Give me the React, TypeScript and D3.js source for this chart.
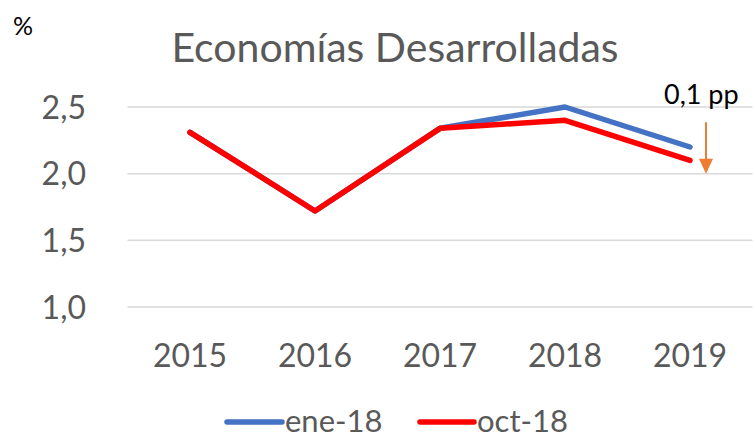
import React from "react";
import * as d3 from "d3";

const categories = ["2015", "2016", "2017", "2018", "2019"];
const ene18 = [2.31, 1.72, 2.34, 2.5, 2.2];
const oct18 = [2.31, 1.72, 2.34, 2.4, 2.1];
const yTicks = [1.0, 1.5, 2.0, 2.5];
const seriesNames = ["ene-18", "oct-18"];
const title = "Economías Desarrolladas";
const annotation = "0,1 pp";

const W = 753;
const H = 438;
const FONT = "Lato, 'Open Sans', sans-serif";

export default function App() {
  const x = d3.scaleBand<string>().domain(categories).range([127.5, 752.5]);
  const y = d3.scaleLinear().domain([1.0, 2.5]).range([307, 107]);
  const cx = (c: string) => (x(c) as number) + x.bandwidth() / 2;
  const line = d3
    .line<number>()
    .x((_, i) => cx(categories[i]))
    .y((d) => y(d));
  const fmt = (v: number) => v.toFixed(1).replace(".", ",");
  const arrowX = 706;
  const arrowTop = y(2.34) - 6;
  const arrowBot = y(2.0);

  return (
    <svg width={W} height={H} style={{ position: "absolute", left: 0, top: 0 }} fontFamily={FONT}>
      <rect width={W} height={H} fill="#fff" />
      <text x={13} y={35} fontSize={25} fill="#000">%</text>
      <text x={395} y={62} fontSize={41} fill="#595959" textAnchor="middle">{title}</text>
      {yTicks.map((t) => (
        <g key={t}>
          <line x1={127.5} x2={752.5} y1={y(t)} y2={y(t)} stroke="#d9d9d9" strokeWidth={1.5} />
          <text x={86} y={y(t)} dy="0.36em" fontSize={32} fill="#595959" textAnchor="end">{fmt(t)}</text>
        </g>
      ))}
      {categories.map((c) => (
        <text key={c} x={cx(c)} y={367} fontSize={32} fill="#595959" textAnchor="middle">{c}</text>
      ))}
      <path d={line(ene18) as string} fill="none" stroke="#4472C4" strokeWidth={5.5} strokeLinecap="round" strokeLinejoin="round" />
      <path d={line(oct18) as string} fill="none" stroke="#FF0000" strokeWidth={5.5} strokeLinecap="round" strokeLinejoin="round" />
      <text x={664} y={104} fontSize={27} fill="#000">{annotation}</text>
      <line x1={arrowX} x2={arrowX} y1={arrowTop} y2={arrowBot - 14} stroke="#ED7D31" strokeWidth={2} />
      <path d={`M${arrowX - 7},${arrowBot - 15} L${arrowX + 7},${arrowBot - 15} L${arrowX},${arrowBot} Z`} fill="#ED7D31" />
      <g>
        <line x1={227} x2={282} y1={422} y2={422} stroke="#4472C4" strokeWidth={5.5} strokeLinecap="round" />
        <text x={285} y={432} fontSize={31} fill="#595959">{seriesNames[0]}</text>
        <line x1={420} x2={474} y1={422} y2={422} stroke="#FF0000" strokeWidth={5.5} strokeLinecap="round" />
        <text x={477} y={432} fontSize={31} fill="#595959">{seriesNames[1]}</text>
      </g>
    </svg>
  );
}
